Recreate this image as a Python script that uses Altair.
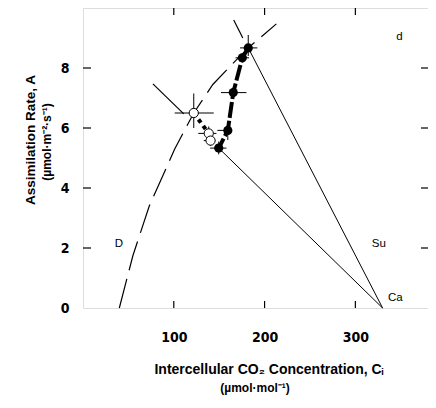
import altair as alt
import pandas as pd

# ---- data ----
filled_ci = [182, 175.5, 165.5, 159.5, 149.5]
filled_a = [8.67, 8.34, 7.18, 5.92, 5.33]
filled_ci_lo = [173, 168, 152, 148, 140]
filled_ci_hi = [192, 183, 180, 164, 158]
filled_a_lo = [8.4, 8.2, 7.0, 5.6, 5.12]
filled_a_hi = [9.1, 8.5, 7.35, 6.2, 5.55]

open_ci = [122, 138.5, 140.5]
open_a = [6.5, 5.82, 5.58]
open_ci_lo = [101, 127, 133]
open_ci_hi = [144, 147, 146]
open_a_lo = [6.0, 5.6, 5.4]
open_a_hi = [7.15, 6.05, 5.75]

# demand curve D
d_ci = [40, 55, 73, 101, 122, 143, 165, 182, 213]
d_a = [0, 1.75, 3.4, 5.3, 6.5, 7.45, 8.15, 8.67, 9.47]

# supply lines from Ca
ca = 330
supply_end_ci = [149.5, 182]
supply_end_a = [5.33, 8.67]
# dashed extensions of the supply lines beyond the points
ext_ci1 = [77, 166]
ext_a1 = [7.47, 9.6]
ext_ci2 = [111, 176]
ext_a2 = [6.47, 9.0]

x_ticks = [100, 200, 300]
y_ticks = [2, 4, 6, 8]

labels_txt = ["D", "Su", "Ca", "d"]
labels_ci = [35, 318, 336, 345]
labels_a = [2.15, 2.15, 0.35, 9.05]

W, H = 345, 300
NUM_FONT = "'Liberation Sans Narrow', 'DejaVu Sans Condensed', 'Roboto Condensed', 'Liberation Sans', sans-serif"
TXT_FONT = "'Liberation Sans', Arial, sans-serif"

xs = alt.Scale(domain=[0, 380], nice=False, zero=False)
ys = alt.Scale(domain=[0, 10], nice=False, zero=False)
x_axis = alt.Axis(values=x_ticks, ticks=False, domain=False, grid=False, title=None,
                  labelFont=NUM_FONT, labelFontWeight="bold", labelFontSize=14,
                  labelPadding=22, labelColor="black")
y_axis = alt.Axis(values=[0] + y_ticks, ticks=False, domain=False, grid=False, title=None,
                  labelFont=NUM_FONT, labelFontWeight="bold", labelFontSize=14,
                  labelPadding=14, labelColor="black")


def X(f):
    return alt.X(f, type="quantitative", scale=xs, axis=x_axis)


def Y(f):
    return alt.Y(f, type="quantitative", scale=ys, axis=y_axis)


d_df = pd.DataFrame({"ci": d_ci, "a": d_a, "o": range(len(d_ci))})
dcurve = alt.Chart(d_df).mark_line(color="black", strokeWidth=1.2, strokeDash=[30, 9]).encode(
    x=X("ci"), y=Y("a"), order="o:Q")

sup_df = pd.DataFrame({"x1": [ca, ca], "y1": [0, 0], "x2": supply_end_ci, "y2": supply_end_a})
supply = alt.Chart(sup_df).mark_rule(color="black", strokeWidth=1).encode(
    x=X("x1"), y=Y("y1"), x2="x2", y2="y2")

ext_df = pd.DataFrame({"x1": ext_ci1, "y1": ext_a1, "x2": ext_ci2, "y2": ext_a2})
ext = alt.Chart(ext_df).mark_rule(color="black", strokeWidth=1.2).encode(
    x=X("x1"), y=Y("y1"), x2="x2", y2="y2")

eb_df = pd.DataFrame({
    "ci": filled_ci + open_ci, "a": filled_a + open_a,
    "clo": filled_ci_lo + open_ci_lo, "chi": filled_ci_hi + open_ci_hi,
    "alo": filled_a_lo + open_a_lo, "ahi": filled_a_hi + open_a_hi})
eb_h = alt.Chart(eb_df).mark_rule(color="black", strokeWidth=1).encode(
    x=X("clo"), x2="chi", y=Y("a"))
eb_v = alt.Chart(eb_df).mark_rule(color="black", strokeWidth=1).encode(
    x=X("ci"), y=Y("alo"), y2="ahi")

f_df = pd.DataFrame({"ci": filled_ci, "a": filled_a, "o": range(len(filled_ci))})
o_df = pd.DataFrame({"ci": open_ci + [filled_ci[-1]], "a": open_a + [filled_a[-1]],
                     "o": range(len(open_ci) + 1)})
f_line = alt.Chart(f_df).mark_line(color="black", strokeWidth=4, strokeDash=[16, 3]).encode(
    x=X("ci"), y=Y("a"), order="o:Q")
o_line = alt.Chart(o_df).mark_line(color="black", strokeWidth=4, strokeDash=[4, 4]).encode(
    x=X("ci"), y=Y("a"), order="o:Q")

f_pts = alt.Chart(f_df).mark_point(shape="circle", filled=True, color="black", size=85, opacity=1).encode(
    x=X("ci"), y=Y("a"))
o_pts = alt.Chart(pd.DataFrame({"ci": open_ci, "a": open_a})).mark_point(
    shape="circle", filled=True, fill="white", stroke="black", strokeWidth=1, size=85, opacity=1).encode(
    x=X("ci"), y=Y("a"))

xt_df = pd.DataFrame({"v": x_ticks})
yt_df = pd.DataFrame({"v": y_ticks})
tick_b = alt.Chart(xt_df).mark_rule(color="black", strokeWidth=1.2).encode(
    x=X("v"), y=alt.value(H), y2=alt.value(H - 7))
tick_t = alt.Chart(xt_df).mark_rule(color="black", strokeWidth=1.2).encode(
    x=X("v"), y=alt.value(0), y2=alt.value(7))
tick_l = alt.Chart(yt_df).mark_rule(color="black", strokeWidth=1.2).encode(
    y=Y("v"), x=alt.value(0), x2=alt.value(8))
tick_r = alt.Chart(yt_df).mark_rule(color="black", strokeWidth=1.2).encode(
    y=Y("v"), x=alt.value(W), x2=alt.value(W - 7))

lab_df = pd.DataFrame({"t": labels_txt, "ci": labels_ci, "a": labels_a})
labels = alt.Chart(lab_df).mark_text(font=TXT_FONT, fontSize=11.5, fontWeight="normal", align="left",
                                     baseline="middle", color="black").encode(
    x=X("ci"), y=Y("a"), text="t:N")

title_df = pd.DataFrame({
    "t": ["Intercellular CO\u2082 Concentration, C\u1d62", "(\u00b5mol\u00b7mol\u207b\u00b9)"]})
x_title = alt.Chart(title_df.iloc[[0]]).mark_text(font=TXT_FONT, fontSize=14, fontWeight="bold",
                                                 align="center", baseline="middle", color="black").encode(
    x=alt.value(186), y=alt.value(362), text="t:N")
x_sub = alt.Chart(title_df.iloc[[1]]).mark_text(font=TXT_FONT, fontSize=12, fontWeight="bold",
                                               align="center", baseline="middle", color="black").encode(
    x=alt.value(172), y=alt.value(380), text="t:N")

ytitle_df = pd.DataFrame({"t": ["Assimilation Rate, A", "(\u00b5mol\u00b7m\u207b\u00b2\u00b7s\u207b\u00b9)"]})
y_title = alt.Chart(ytitle_df.iloc[[0]]).mark_text(font=TXT_FONT, fontSize=13.5, fontWeight="bold",
                                                  align="center", baseline="middle", angle=270,
                                                  color="black").encode(
    x=alt.value(-52), y=alt.value(132), text="t:N")
y_sub = alt.Chart(ytitle_df.iloc[[1]]).mark_text(font=TXT_FONT, fontSize=12, fontWeight="bold",
                                                align="center", baseline="middle", angle=270,
                                                color="black").encode(
    x=alt.value(-36), y=alt.value(134), text="t:N")

chart = alt.layer(
    dcurve, supply, ext, eb_h, eb_v, o_line, f_line, f_pts, o_pts,
    tick_b, tick_t, tick_l, tick_r, labels, x_title, x_sub, y_title, y_sub
).properties(
    width=W, height=H,
    autosize=alt.AutoSizeParams(type="none"),
    padding={"left": 75, "top": 0, "right": 0, "bottom": 88},
).configure_view(stroke="black", strokeWidth=1).configure(background="white")

chart.save("out.html", embed_options={"renderer": "svg", "actions": False})
